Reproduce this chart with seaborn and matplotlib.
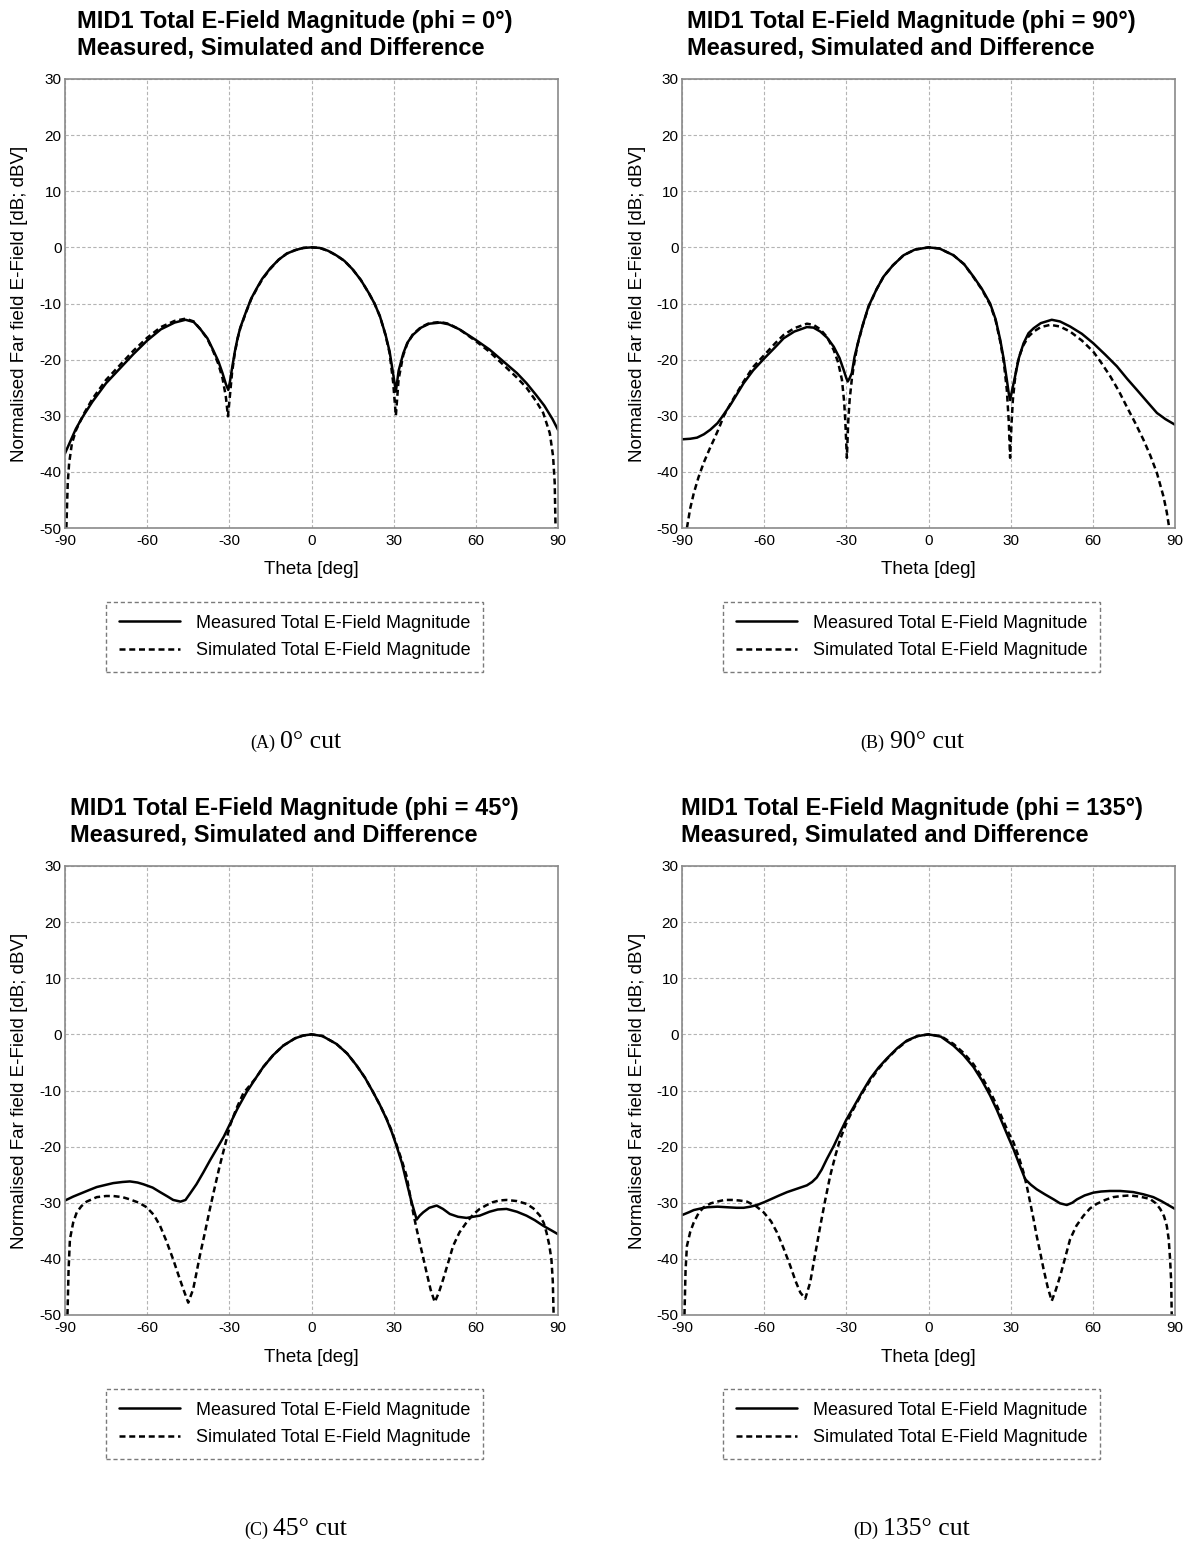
import matplotlib
matplotlib.use("Agg")
import matplotlib.pyplot as plt
import matplotlib.font_manager as fm
import seaborn as sns
import pandas as pd
from matplotlib.lines import Line2D

# ---------------- data ----------------
# Panel A: phi = 0
theta_meas_A = [-90, -88, -86, -83.3, -80, -75, -70, -65, -60, -55, -50, -46, -43, -40.7, -38, -35.9, -34,
                -32.5, -31.3, -30.4, -29.8, -29, -28, -27, -26, -24, -22, -20, -18, -15, -12, -9, -6, -3, 0,
                3, 6, 9, 12, 15, 18, 21, 23, 25, 27, 28.5, 29.8, 30.8, 31.8, 33.5, 35, 37, 40, 43, 47, 50, 54,
                60, 65, 70, 75, 78.5, 82, 85, 88, 90]
meas_A = [-36.7, -34.5, -32.3, -30.0, -27.5, -24.2, -21.6, -19.0, -16.6, -14.6, -13.4, -12.9, -13.3, -14.5,
          -16.2, -18.3, -20.3, -22.4, -24.3, -25.4, -24.0, -21.5, -18.6, -16.2, -14.3, -11.6, -9.1, -7.3, -5.6,
          -3.7, -2.2, -1.1, -0.5, -0.1, 0.0, -0.1, -0.6, -1.4, -2.4, -3.9, -5.8, -8.2, -10.0, -12.3, -15.5,
          -18.5, -22.5, -25.7, -22.0, -18.9, -17.0, -15.6, -14.3, -13.6, -13.4, -13.7, -14.6, -16.5, -18.2,
          -20.3, -22.4, -24.2, -26.3, -28.2, -30.6, -32.5]
theta_sim_A = [-89.5, -89, -88.5, -87.5, -86, -83.3, -80, -75, -70, -65, -60, -55, -50, -46, -43, -40.7, -38,
               -35.9, -34, -32.5, -31.3, -30.5, -29.8, -29, -28, -27, -26, -24, -22, -20, -18, -15, -12, -9,
               -6, -3, 0, 3, 6, 9, 12, 15, 18, 21, 23, 25, 27, 28.5, 29.8, 30.8, 31.8, 33.5, 35, 37, 40, 43,
               47, 50, 54, 60, 65, 70, 75, 78.5, 82, 84.6, 87, 88.2, 88.8, 89.1]
sim_A = [-50.0, -42.0, -38.5, -35.0, -32.6, -29.8, -27.0, -23.6, -21.0, -18.4, -16.1, -14.2, -13.1, -12.7,
         -13.2, -14.5, -16.3, -18.5, -20.8, -23.3, -26.5, -30.1, -26.5, -22.3, -18.8, -16.3, -14.4, -11.7,
         -9.2, -7.4, -5.7, -3.8, -2.2, -1.1, -0.5, -0.1, 0.0, -0.1, -0.6, -1.4, -2.4, -3.9, -5.8, -8.2, -10.0,
         -12.3, -15.6, -18.8, -24.0, -30.0, -23.5, -19.2, -17.1, -15.5, -14.2, -13.5, -13.3, -13.6, -14.6,
         -16.7, -18.6, -20.9, -23.2, -25.0, -27.4, -29.5, -33.1, -37.2, -42.0, -50.0]

# Panel B: phi = 90
theta_meas_B = [-90, -87, -84.5, -82, -79.7, -77, -74.8, -72, -67.5, -64, -60, -56, -52.9, -49, -44.4, -42,
                -39.5, -37, -34.6, -32.5, -31, -30, -29.5, -28.8, -28, -27, -25.5, -24, -21.9, -19, -16.4,
                -13, -9.1, -5, 0, 4, 9.1, 13, 16.4, 19.5, 22.5, 24.5, 26.2, 27.5, 28.6, 29.3, 29.8, 30.5,
                31.6, 33, 34.7, 36.5, 38.4, 41, 45, 48, 51.7, 56, 60.2, 64.5, 68.8, 72.5, 76.1, 80, 83.4,
                86.5, 90]
meas_B = [-34.2, -34.1, -33.9, -33.3, -32.5, -31.3, -29.8, -27.8, -24.2, -21.9, -19.8, -17.8, -16.2, -15.0,
          -14.2, -14.3, -15.0, -16.1, -17.7, -19.7, -21.8, -23.3, -23.9, -23.3, -22.4, -19.5, -16.5, -13.8,
          -10.5, -7.5, -5.2, -3.2, -1.4, -0.4, 0.0, -0.2, -1.4, -3.0, -5.2, -7.4, -10.0, -12.8, -16.5, -20.0,
          -23.6, -26.0, -27.2, -25.5, -23.0, -19.7, -17.1, -15.3, -14.4, -13.5, -12.9, -13.2, -14.1, -15.4,
          -17.1, -19.1, -21.2, -23.4, -25.4, -27.6, -29.5, -30.6, -31.6]
theta_sim_B = [-88.2, -87, -85.7, -84, -82.1, -80, -78.4, -76.5, -74.8, -72, -67.5, -64, -60, -56, -52.9, -49,
               -44.4, -42, -39.5, -37, -34.6, -33, -31.6, -30.8, -30.4, -29.8, -29.3, -28.8, -28, -27.3, -26,
               -24, -21.9, -19, -16.4, -13, -9.1, -5, 0, 4, 9.1, 13, 16.4, 19.5, 22.5, 24.5, 26.2, 27.5, 28.6,
               29.3, 29.8, 30.3, 30.8, 31.5, 32.2, 33.5, 34.7, 36.5, 38.4, 41, 44.5, 48, 51.7, 56, 60.2, 63,
               66.4, 69.5, 72.4, 75.5, 78.5, 81, 83.4, 85.8, 87, 87.9]
sim_B = [-50.0, -46.5, -43.8, -41.0, -38.4, -36.0, -34.3, -32.2, -30.1, -27.6, -23.9, -21.3, -19.2, -17.1,
         -15.6, -14.4, -13.6, -13.8, -14.6, -16.0, -18.3, -20.5, -23.6, -27.5, -30.7, -37.5, -31.0, -27.2,
         -23.5, -21.2, -17.5, -13.9, -10.6, -7.5, -5.2, -3.2, -1.4, -0.4, 0.0, -0.2, -1.4, -3.0, -5.3, -7.5,
         -10.2, -13.0, -16.8, -20.5, -25.4, -31.0, -37.5, -31.5, -27.2, -23.8, -21.2, -18.9, -17.4, -15.9,
         -15.0, -14.2, -13.8, -14.1, -15.0, -16.6, -18.6, -20.5, -23.0, -25.6, -28.4, -31.3, -34.3, -37.1,
         -40.2, -44.4, -47.2, -50.0]

# Panel C: phi = 45
theta_meas_C = [-90, -87, -84.5, -81, -78.4, -75, -72.4, -69, -66.3, -63.5, -61.4, -58, -55.3, -52.5, -50.5,
                -47.8, -46, -44.4, -42, -39.5, -37, -34.6, -32, -29.8, -27, -23.7, -20.5, -17.6, -14, -10.3,
                -6, -3, 0, 4, 9.1, 13, 16.4, 19.5, 22.5, 25, 27.4, 29.3, 31, 33, 34.7, 36.5, 38.4, 39.5, 40.8,
                43, 45.7, 48, 50.5, 53.5, 56.6, 59, 61.4, 65, 68, 71.2, 75, 78.5, 81.5, 84.6, 87.5, 90]
meas_C = [-29.6, -28.9, -28.4, -27.7, -27.2, -26.8, -26.5, -26.3, -26.2, -26.4, -26.7, -27.3, -28.1, -28.9,
          -29.5, -29.8, -29.5, -28.4, -26.7, -24.6, -22.4, -20.4, -18.2, -16.0, -13.2, -10.3, -7.9, -5.8, -3.7,
          -2.0, -0.7, -0.2, 0.0, -0.3, -1.7, -3.4, -5.5, -7.7, -10.3, -12.6, -15.1, -17.4, -19.8, -22.9, -26.3,
          -29.8, -33.0, -32.3, -31.7, -30.9, -30.5, -31.1, -32.0, -32.5, -32.7, -32.5, -32.3, -31.6, -31.2,
          -31.1, -31.6, -32.3, -33.1, -34.1, -34.9, -35.6]
theta_sim_C = [-89.1, -88.7, -88.2, -87, -85.7, -84, -82.1, -78.4, -75, -72.4, -69, -66.3, -63, -60.2, -57.5,
               -55.3, -53, -50.5, -48.5, -46.8, -45, -43.2, -42, -40.8, -39, -37.1, -35.3, -33.5, -31.5,
               -29.8, -27.5, -24.9, -20.5, -17.6, -14, -10.3, -6, -3, 0, 4, 9.1, 13, 16.4, 19.5, 22.5, 25,
               27.4, 29.3, 31, 33, 34.7, 36, 37.1, 38.3, 39.5, 40.8, 42, 43.5, 45, 46.5, 48.1, 50, 51.7, 54,
               56.6, 59, 61.4, 64, 66.2, 68.5, 71.2, 75, 78.5, 81, 83.4, 84.8, 85.8, 86.8, 87.6, 88.1, 88.4]
sim_C = [-50.0, -42.0, -36.5, -33.5, -31.7, -30.6, -29.8, -29.0, -28.8, -28.8, -29.0, -29.4, -30.0, -30.8,
         -32.2, -34.1, -36.8, -40.1, -43.0, -45.4, -47.8, -45.4, -42.5, -39.5, -35.5, -31.1, -27.2, -23.4,
         -19.6, -16.3, -13.3, -10.5, -7.9, -5.8, -3.7, -2.0, -0.7, -0.2, 0.0, -0.3, -1.7, -3.4, -5.5, -7.7,
         -10.3, -12.6, -15.0, -17.2, -19.6, -22.5, -25.2, -28.7, -31.7, -34.5, -37.1, -39.8, -42.4, -45.5,
         -47.7, -46.0, -43.6, -40.5, -37.7, -35.3, -33.5, -32.1, -31.1, -30.4, -29.9, -29.6, -29.5, -29.7,
         -30.2, -31.0, -32.3, -33.6, -35.3, -37.5, -40.1, -44.0, -50.0]

# Panel D: phi = 135
theta_meas_D = [-90, -87.5, -85.7, -83, -80.8, -77, -73.6, -70, -67.5, -65, -62.6, -60, -57.7, -54.5, -51.6,
                -48, -44.4, -42.5, -40.8, -39, -37.1, -34.5, -32.2, -30, -27.4, -24.5, -21.3, -18.2, -15.2,
                -11.5, -7.9, -4, 0, 4.5, 9.1, 12.8, 16.4, 19.5, 22.5, 25, 27.4, 29.2, 31, 33.2, 35.3, 37.4,
                39.5, 42.5, 45.7, 48, 50.5, 52.5, 54.2, 57, 60.2, 63, 66.2, 70, 74.8, 78.5, 82.1, 85, 87.5, 90]
meas_D = [-32.2, -31.7, -31.3, -31.0, -30.8, -30.7, -30.8, -30.9, -30.9, -30.7, -30.4, -29.9, -29.4, -28.7,
          -28.1, -27.5, -26.9, -26.3, -25.5, -24.1, -22.2, -19.8, -17.4, -15.2, -13.0, -10.5, -7.9, -5.9,
          -4.3, -2.5, -1.1, -0.3, 0.0, -0.4, -2.0, -3.7, -5.8, -8.2, -10.9, -13.5, -16.3, -18.4, -20.4,
          -23.2, -25.8, -26.8, -27.6, -28.5, -29.4, -30.1, -30.4, -30.0, -29.4, -28.7, -28.2, -28.0, -27.9,
          -27.9, -28.1, -28.5, -29.0, -29.7, -30.4, -31.1]
theta_sim_D = [-89.1, -88.7, -88.2, -87, -85.7, -84, -82.1, -79.5, -77.2, -74.5, -71.8, -69, -66.3, -63, -60.2,
               -57.5, -55.3, -53, -50.5, -48.5, -46.8, -45, -43.2, -41.5, -39.5, -37.7, -35.9, -34, -32.2,
               -29.8, -27.4, -24.5, -21.3, -18.2, -15.2, -11.5, -7.9, -4, 0, 4.5, 9.1, 12.8, 16.4, 19.5, 22.5,
               25, 27.4, 29.2, 31, 33, 34.7, 36, 37.1, 38.3, 39.5, 40.8, 42, 43.5, 45, 46.5, 48.1, 50, 51.7,
               54, 56.6, 59, 61.4, 64.5, 67.4, 70.5, 73.5, 77, 80.8, 83, 84.6, 86, 87, 87.7, 88.2, 88.6, 88.8]
sim_D = [-50.0, -42.0, -37.7, -35.2, -33.5, -31.9, -30.8, -30.1, -29.8, -29.5, -29.5, -29.6, -29.8, -30.6,
         -31.7, -33.3, -35.3, -38.0, -41.2, -44.0, -46.0, -47.1, -44.2, -39.5, -34.1, -29.5, -25.2, -21.6,
         -18.6, -15.6, -13.3, -10.7, -8.2, -6.1, -4.4, -2.6, -1.2, -0.3, 0.0, -0.3, -1.7, -3.3, -5.3, -7.6,
         -10.2, -12.7, -15.5, -17.5, -19.2, -21.9, -24.6, -27.3, -29.9, -32.8, -35.9, -38.9, -41.8, -45.0,
         -47.5, -45.5, -43.0, -39.6, -36.5, -34.1, -32.3, -31.0, -30.2, -29.5, -29.0, -28.8, -28.7, -28.9,
         -29.3, -30.1, -31.1, -32.4, -34.1, -36.5, -40.0, -44.0, -50.0]

phi_labels = ["0", "90", "45", "135"]
cap_letters = ["(A)", "(B)", "(C)", "(D)"]
cap_texts = ["0° cut", "90° cut", "45° cut", "135° cut"]
x_ticks = [-90, -60, -30, 0, 30, 60, 90]
y_ticks = [-50, -40, -30, -20, -10, 0, 10, 20, 30]
legend_labels = ["Measured Total E-Field Magnitude", "Simulated Total E-Field Magnitude"]
x_label = "Theta [deg]"
y_label = "Normalised Far field E-Field [dB; dBV]"

# ---------------- figure ----------------
W, H = 1194, 1542
sns.set_theme(style="white")
plt.rcParams["font.family"] = ["Liberation Sans", "DejaVu Sans"]
plt.rcParams["text.color"] = "black"

# pick the regular-width Liberation Sans Bold file for the titles
bold_file = None
for f in fm.fontManager.ttflist:
    if f.name == "Liberation Sans" and f.weight in (700, "bold") and f.style == "normal":
        bold_file = f.fname
title_fp = (fm.FontProperties(fname=bold_file, size=17) if bold_file
            else fm.FontProperties(family="DejaVu Sans", weight="bold", size=15.5))

fig = plt.figure(figsize=(W / 100, H / 100), dpi=100)
fig.patch.set_facecolor("white")

curves = [
    (theta_meas_A, meas_A, theta_sim_A, sim_A),
    (theta_meas_B, meas_B, theta_sim_B, sim_B),
    (theta_meas_C, meas_C, theta_sim_C, sim_C),
    (theta_meas_D, meas_D, theta_sim_D, sim_D),
]
# layout in pixels: axes left, axes top, title x, caption letter right x, caption text x
layout = [
    (65, 79, 77, 275, 280),
    (682, 79, 687, 884, 890),
    (65, 866, 70, 268, 273),
    (682, 866, 681, 878, 883),
]
AW, AH = 493, 449
dash = (0, (2.4, 1.5))
serif = ["Liberation Serif", "DejaVu Serif"]

for i, (tm, m, ts, s) in enumerate(curves):
    left, top, tx, clx, ctx = layout[i]
    ax = fig.add_axes([left / W, 1 - (top + AH) / H, AW / W, AH / H])
    df_m = pd.DataFrame({"theta": tm, "val": m})
    df_s = pd.DataFrame({"theta": ts, "val": s})
    sns.lineplot(data=df_m, x="theta", y="val", ax=ax, color="black", linewidth=1.8,
                 sort=False, estimator=None)
    sns.lineplot(data=df_s, x="theta", y="val", ax=ax, color="black", linewidth=1.8,
                 linestyle=dash, sort=False, estimator=None)
    ax.set_xlim(-90, 90)
    ax.set_ylim(-50, 30)
    ax.set_xticks(x_ticks)
    ax.set_yticks(y_ticks)
    ax.set_xticklabels([str(v) for v in x_ticks])
    ax.set_yticklabels([str(v) for v in y_ticks])
    ax.tick_params(axis="x", length=0, pad=4.5, labelsize=11, colors="black")
    ax.tick_params(axis="y", length=0, pad=2.5, labelsize=11, colors="black")
    ax.grid(True, color="#b4b4b4", linestyle=(0, (3, 2)), linewidth=0.8)
    ax.set_axisbelow(True)
    for sp in ax.spines.values():
        sp.set_color("#8a8a8a")
        sp.set_linewidth(1.2)
    ax.set_xlabel(x_label, fontsize=13.5, color="black")
    ax.xaxis.label.set_va("center")
    ax.xaxis.set_label_coords(0.5, -42 / AH)
    ax.set_ylabel(y_label, fontsize=13.5, color="black")
    ax.yaxis.label.set_va("center")
    ax.yaxis.set_label_coords(-45 / AW, 0.5)

    # title
    fig.text(tx / W, 1 - (top - 69) / H,
             f"MID1 Total E-Field Magnitude (phi = {phi_labels[i]}°)\nMeasured, Simulated and Difference",
             ha="left", va="top", fontproperties=title_fp, linespacing=1.17, color="black")

    # legend
    handles = [Line2D([], [], color="black", linewidth=1.8),
               Line2D([], [], color="black", linewidth=1.8, linestyle=dash)]
    cx = left + 229.5
    cy = top + 558
    leg = fig.legend(handles, legend_labels, loc="center", bbox_to_anchor=(cx / W, 1 - cy / H),
                     fontsize=13, handlelength=3.4, handletextpad=0.85, labelspacing=0.6,
                     borderpad=0.72, borderaxespad=0, frameon=True, fancybox=False, framealpha=1,
                     labelcolor="black")
    fr = leg.get_frame()
    fr.set_edgecolor("#7a7a7a")
    fr.set_linewidth(1.0)
    fr.set_linestyle((0, (3, 2)))

    # caption
    base = top + 669
    fig.text(clx / W, 1 - base / H, cap_letters[i], ha="right", va="baseline",
             fontsize=13, family=serif, color="black")
    fig.text(ctx / W, 1 - base / H, cap_texts[i], ha="left", va="baseline",
             fontsize=18.5, family=serif, color="black")

fig.savefig("out.png", dpi=100, facecolor="white")
